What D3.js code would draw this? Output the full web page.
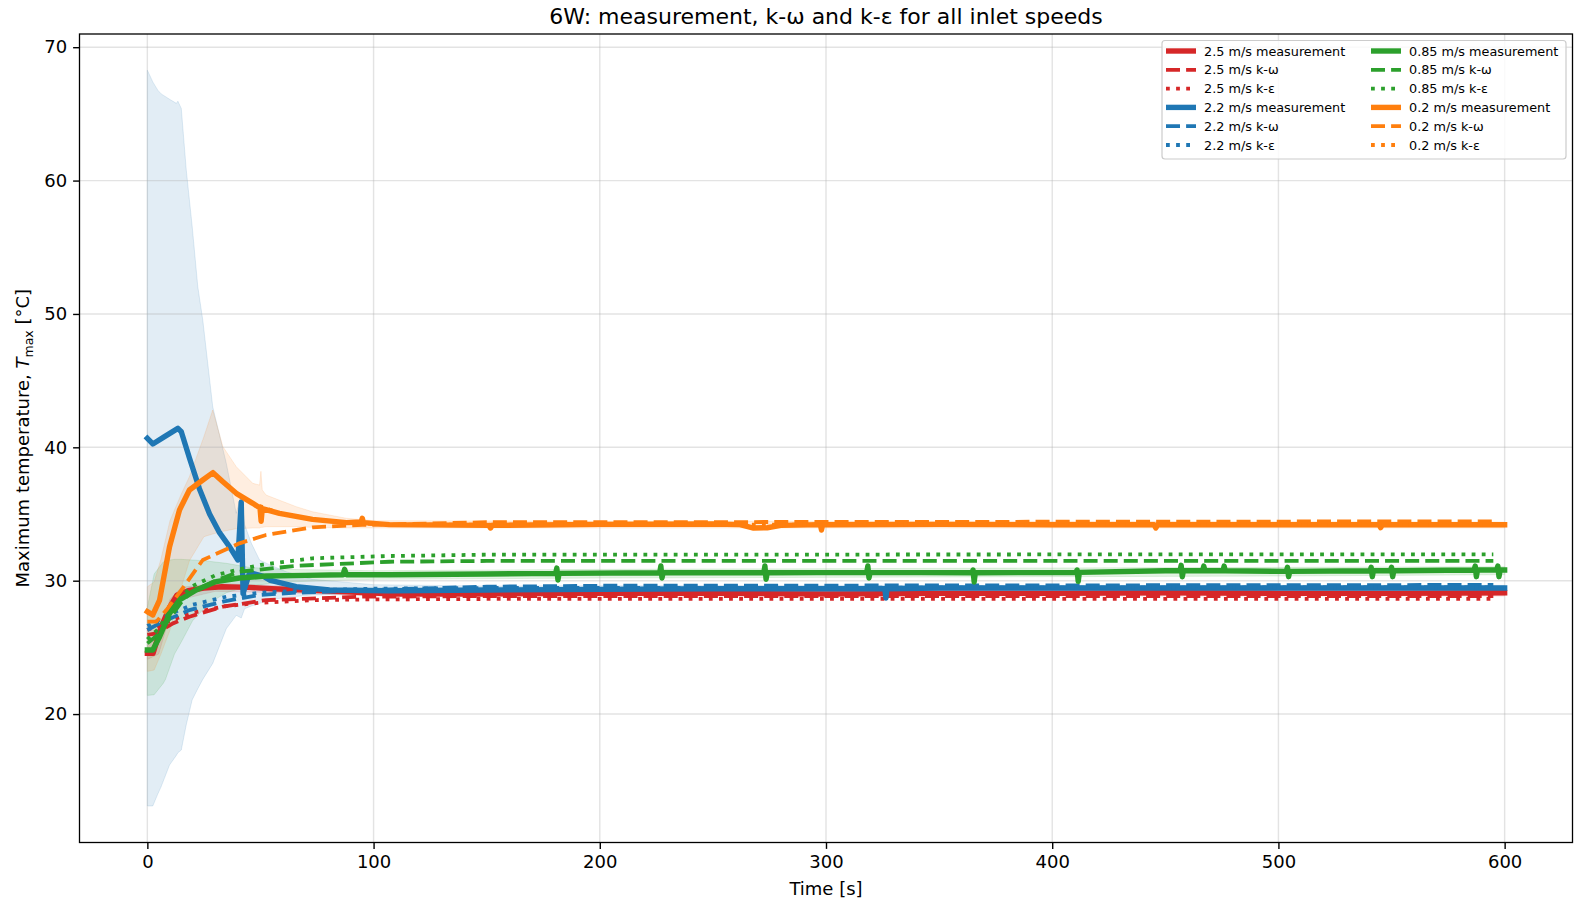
<!DOCTYPE html>
<html>
<head>
<meta charset="utf-8">
<script src="https://cdn.jsdelivr.net/npm/d3@7"></script>
<style>
  body { margin: 0; background: #fff; }
  svg { display: block; font-family: "DejaVu Sans", sans-serif; }
</style>
</head>
<body>
<div id="chart"></div>
<script>
// tick values
const xTicks = [0, 100, 200, 300, 400, 500, 600];
const yTicks = [20, 30, 40, 50, 60, 70];

// inlet speeds and their colours
const speeds = ["2.5 m/s", "2.2 m/s", "0.85 m/s", "0.2 m/s"];
const colors = ["#d62728", "#1f77b4", "#2ca02c", "#ff7f0e"];

// measurements [time s, Tmax °C]
const red_meas = [[0,24.55],[2.5,24.55],[6,26.5],[10,28.05],[13,28.9],[18,29.25],[25,29.45],[33,29.55],[45,29.5],[55,29.4],[70,29.3],[90,29.15],[110,29.0],[150,29.0],[200,29.05],[250,29.05],[300,29.0],[350,29.05],[400,29.05],[450,29.1],[500,29.05],[550,29.05],[600,29.1]];
const blue_meas = [[0,40.67],[2.4,40.25],[7.6,40.8],[13.5,41.42],[15,41.17],[18.6,39.2],[23,36.9],[27.5,35.0],[31.9,33.6],[36.3,32.55],[40,31.55],[41.5,35.9],[42.3,29.05],[45.2,30.6],[51,30.35],[54,30.05],[65.8,29.55],[80.5,29.3],[107,29.25],[150,29.3],[200,29.35],[250,29.4],[300,29.4],[326,29.4],[326.5,28.7],[327,29.4],[350,29.45],[400,29.45],[450,29.45],[500,29.45],[550,29.45],[600,29.45]];
const green_meas = [[0,24.8],[2.4,24.8],[5.4,25.8],[9.8,27.55],[14.2,28.55],[21.6,29.3],[30.4,29.93],[40.7,30.2],[52.5,30.35],[70,30.4],[86.5,30.45],[87.2,30.85],[88,30.45],[107,30.45],[150,30.5],
  [180.5,30.55],[181,30.95],[181.5,30.05],[182,30.55],[226.5,30.6],[227,31.1],[227.5,30.2],[228,30.6],
  [272.5,30.6],[273,31.1],[273.5,30.1],[274,30.6],[318,30.62],[318.5,31.1],[319,30.2],[319.5,30.62],
  [364.5,30.6],[365,30.8],[365.5,29.9],[366,30.6],[410.5,30.62],[411,30.8],[411.5,29.95],[412,30.62],
  [450,30.75],[456.5,30.75],[457,31.15],[457.5,30.3],[458,30.75],[466.5,30.75],[467,31.1],[467.5,30.75],
  [475.5,30.75],[476,31.1],[476.5,30.75],[503.5,30.7],[504,31.0],[504.5,30.3],[505,30.7],
  [540.5,30.75],[541,31.0],[541.5,30.3],[542,30.75],[549.5,30.75],[550,31.0],[550.5,30.3],[551,30.75],
  [586.5,30.8],[587,31.1],[587.5,30.3],[588,30.8],[596.5,30.8],[597,31.1],[597.5,30.3],[598,30.8],[600,30.8]];
const orange_meas = [[0,27.68],[2.4,27.43],[5.4,28.55],[9.8,32.55],[14.2,35.3],[18.6,36.8],[24.5,37.55],[29,38.1],[33.4,37.42],[39.3,36.55],[46.6,35.8],[49.8,35.45],[50.3,34.45],[50.8,35.4],[58.4,35.05],[73,34.6],[88,34.35],[94.5,34.4],[95,34.68],[95.5,34.35],[107,34.2],[151,34.15],[151.7,33.95],[152.4,34.15],[200,34.22],[250,34.25],[262,34.2],[268,33.95],[274,33.97],[280,34.15],[297.5,34.2],[298,33.8],[298.5,34.2],[350,34.22],[400,34.2],[445,34.2],[445.8,33.95],[446.6,34.2],[500,34.2],[544.5,34.2],[545.2,33.98],[546,34.2],[600,34.2]];

// measurement spread bands [time, lower, upper]
const red_band = [[0,24.1,25.0],[5,24.5,26.0],[10,27.4,28.6],[15,28.6,29.5],[30,29.2,29.8],[60,29.1,29.6],[100,28.85,29.3],[600,28.85,29.35]];
const blue_band = [[0,13.11,68.28],[2.4,13.11,67.4],[4.6,14.0,66.78],[6.1,14.56,66.5],[9.8,16.18,66.1],[12.8,16.9,65.79],[13.5,17.1,65.95],[15,17.3,65.41],[17.2,19.2,60.79],[19.8,21.06,56.6],[22.3,21.9,52.04],[24.5,22.6,49.54],[28.9,23.8,43.04],[34.9,26.4,38.8],[39.3,27.4,35.05],[41.5,27.2,36.5],[43,27.9,34.2],[46,28.1,32.8],[49.6,28.3,31.55],[54,28.55,31.2],[61.4,28.75,30.67],[73,28.93,30.1],[100,29.05,29.7],[150,29.15,29.6],[300,29.2,29.65],[600,29.25,29.65]];
const green_band = [[0,21.4,28.0],[3,21.45,30.5],[7,22.3,31.4],[8,22.6,31.5],[12,24.5,31.6],[15,25.4,31.6],[20,27.0,31.55],[25,27.9,31.5],[30,28.6,31.4],[35,29.1,31.3],[45,29.6,31.0],[60,29.9,30.85],[100,30.1,30.75],[200,30.2,30.85],[300,30.25,30.9],[400,30.3,30.95],[500,30.35,31.0],[600,30.45,31.05]];
const orange_band = [[0,23.2,29.55],[3,23.3,29.9],[6,24.5,31.6],[10,26.3,34.5],[15,29.5,36.5],[18.6,31.5,37.8],[25,33.3,40.8],[28.9,33.5,42.8],[33.4,33.7,40.05],[39.3,33.9,38.55],[46.6,33.95,37.3],[49.6,33.95,37.17],[50.2,34.0,38.2],[50.8,34.0,36.8],[52.5,34.05,36.42],[65.8,34.05,35.55],[73,34.0,35.17],[87.9,33.95,34.68],[100,33.95,34.5],[200,33.95,34.45],[400,33.95,34.45],[600,33.95,34.4]];

// k-omega simulations
const red_kw = [[0,25.93],[4,26.05],[11.3,26.8],[18.6,27.3],[33.4,28.05],[52.5,28.55],[65.8,28.62],[95,28.8],[150,28.85],[595,28.85]];
const blue_kw = [[0,26.3],[5.4,26.8],[18.6,27.8],[33.4,28.43],[49.5,28.93],[65.8,29.1],[107,29.35],[150,29.55],[200,29.62],[595,29.68]];
const green_kw = [[0,25.3],[5,26.0],[10,27.2],[15.7,28.55],[20,29.2],[30,30.0],[40.7,30.67],[65.8,31.12],[107,31.42],[150,31.48],[595,31.48]];
const orange_kw = [[0,26.93],[4,26.93],[8.4,27.8],[15,29.3],[24.5,31.55],[40.7,32.8],[52.5,33.43],[73,34.0],[95,34.18],[150,34.38],[595,34.45]];

// k-epsilon simulations (0.2 m/s lies under its measurement)
const red_ke = [[0,26.3],[10,27.0],[20,27.6],[35,28.1],[50,28.35],[75,28.55],[100,28.6],[150,28.63],[595,28.63]];
const blue_ke = [[0,26.6],[10,27.5],[20,28.2],[35,28.8],[50,29.1],[75,29.3],[100,29.4],[150,29.45],[595,29.5]];
const green_ke = [[0,25.6],[5,26.4],[10,27.7],[15,28.8],[20,29.6],[30,30.4],[39.3,30.8],[51,31.2],[73,31.68],[107,31.85],[150,31.95],[595,31.98]];
const orange_ke = [[0,27.6],[2.4,27.45],[5.4,28.5],[9.8,32.5],[14.2,35.25],[18.6,36.8],[24.5,37.55],[29,38.05],[33.4,37.4],[39.3,36.55],[46.6,35.8],[58.4,35.05],[73,34.6],[88,34.35],[107,34.2],[595,34.2]];

const measAll = [red_meas, blue_meas, green_meas, orange_meas];
const kwAll = [red_kw, blue_kw, green_kw, orange_kw];
const keAll = [red_ke, blue_ke, green_ke, orange_ke];
const bandAll = [red_band, blue_band, green_band, orange_band];

const width = 1577, height = 901;
const plot = { left: 79.5, right: 1572.5, top: 34, bottom: 842.5 };

const svg = d3.select("#chart").append("svg")
  .attr("width", width)
  .attr("height", height);

const x = d3.scaleLinear().domain([-30, 630]).range([plot.left, plot.right]);
const y = d3.scaleLinear().domain([10.37, 70.99]).range([plot.bottom, plot.top]);

svg.append("clipPath").attr("id", "clip")
  .append("rect")
  .attr("x", plot.left).attr("y", plot.top)
  .attr("width", plot.right - plot.left)
  .attr("height", plot.bottom - plot.top);

const inner = svg.append("g").attr("clip-path", "url(#clip)");

// spread bands (drawn below grid)
const area = d3.area()
  .x(d => x(d[0]))
  .y0(d => y(d[1]))
  .y1(d => y(d[2]));

bandAll.forEach((band, i) => {
  inner.append("path")
    .datum(band)
    .attr("d", area)
    .attr("fill", colors[i])
    .attr("fill-opacity", 0.13)
    .attr("stroke", colors[i])
    .attr("stroke-opacity", 0.13)
    .attr("stroke-width", 1);
});

// grid
inner.append("g").selectAll("line").data(xTicks).join("line")
  .attr("x1", d => x(d)).attr("x2", d => x(d))
  .attr("y1", plot.top).attr("y2", plot.bottom)
  .attr("stroke", "#b0b0b0").attr("stroke-opacity", 0.35).attr("stroke-width", 1.4);
inner.append("g").selectAll("line").data(yTicks).join("line")
  .attr("x1", plot.left).attr("x2", plot.right)
  .attr("y1", d => y(d)).attr("y2", d => y(d))
  .attr("stroke", "#b0b0b0").attr("stroke-opacity", 0.35).attr("stroke-width", 1.4);

const line = d3.line()
  .x(d => x(d[0]))
  .y(d => y(d[1]));

const styles = {
  meas: { width: 5.4, dash: null, cap: "square" },
  kw: { width: 3.8, dash: "14,6.1", cap: "butt" },
  ke: { width: 3.8, dash: "3.8,6.3", cap: "butt" }
};

// lines: per speed -> measurement, k-omega, k-epsilon
speeds.forEach((s, i) => {
  [["meas", measAll[i]], ["kw", kwAll[i]], ["ke", keAll[i]]].forEach(([kind, data]) => {
    const st = styles[kind];
    inner.append("path")
      .datum(data)
      .attr("d", line)
      .attr("fill", "none")
      .attr("stroke", colors[i])
      .attr("stroke-width", st.width)
      .attr("stroke-linejoin", "round")
      .attr("stroke-linecap", st.cap)
      .attr("stroke-dasharray", st.dash);
  });
});

// frame
svg.append("rect")
  .attr("x", plot.left).attr("y", plot.top)
  .attr("width", plot.right - plot.left)
  .attr("height", plot.bottom - plot.top)
  .attr("fill", "none")
  .attr("stroke", "#000")
  .attr("stroke-width", 1.3);

// axes
const xAxis = svg.append("g")
  .attr("transform", `translate(0,${plot.bottom})`)
  .call(d3.axisBottom(x).tickValues(xTicks).tickSize(6.4).tickPadding(6).tickSizeOuter(0));
const yAxis = svg.append("g")
  .attr("transform", `translate(${plot.left},0)`)
  .call(d3.axisLeft(y).tickValues(yTicks).tickSize(6.4).tickPadding(6).tickSizeOuter(0));

[xAxis, yAxis].forEach(ax => {
  ax.select(".domain").remove();
  ax.selectAll(".tick line").attr("stroke", "#000").attr("stroke-width", 1.4);
  ax.selectAll(".tick text")
    .attr("fill", "#000")
    .style("font-size", "18px")
    .style("font-family", "DejaVu Sans");
});

// title
svg.append("text")
  .attr("x", (plot.left + plot.right) / 2)
  .attr("y", 24)
  .attr("text-anchor", "middle")
  .style("font-size", "22px")
  .text("6W: measurement, k-ω and k-ε for all inlet speeds");

// x label
svg.append("text")
  .attr("x", (plot.left + plot.right) / 2)
  .attr("y", 895)
  .attr("text-anchor", "middle")
  .style("font-size", "18px")
  .text("Time [s]");

// y label with italic T and subscript
const yl = svg.append("text")
  .attr("transform", `translate(29,${(plot.top + plot.bottom) / 2}) rotate(-90)`)
  .attr("text-anchor", "middle")
  .style("font-size", "18px");
yl.append("tspan").text("Maximum temperature, ");
yl.append("tspan").style("font-style", "italic").text("T");
yl.append("tspan").attr("dy", 4).style("font-size", "12.5px").text("max");
yl.append("tspan").attr("dy", -4).text(" [°C]");

// legend, two columns filled column-wise
const legendItems = [];
speeds.forEach((s, i) => {
  legendItems.push({ label: `${s} measurement`, kind: "meas", color: colors[i] });
  legendItems.push({ label: `${s} k-ω`, kind: "kw", color: colors[i] });
  legendItems.push({ label: `${s} k-ε`, kind: "ke", color: colors[i] });
});

const legend = svg.append("g");
legend.append("rect")
  .attr("x", 1162).attr("y", 40.5)
  .attr("width", 404).attr("height", 118.5)
  .attr("rx", 3)
  .attr("fill", "#fff").attr("fill-opacity", 0.8)
  .attr("stroke", "#cccccc").attr("stroke-width", 1.2);

const colX = [1166, 1371];
legendItems.forEach((item, k) => {
  const col = Math.floor(k / 6), row = k % 6;
  const cy = 51 + row * 18.8;
  const st = styles[item.kind];
  legend.append("line")
    .attr("x1", colX[col]).attr("x2", colX[col] + 30)
    .attr("y1", cy).attr("y2", cy)
    .attr("stroke", item.color)
    .attr("stroke-width", st.width)
    .attr("stroke-dasharray", st.dash);
  legend.append("text")
    .attr("x", colX[col] + 38)
    .attr("y", cy + 4.6)
    .style("font-size", "12.8px")
    .text(item.label);
});
</script>
</body>
</html>
